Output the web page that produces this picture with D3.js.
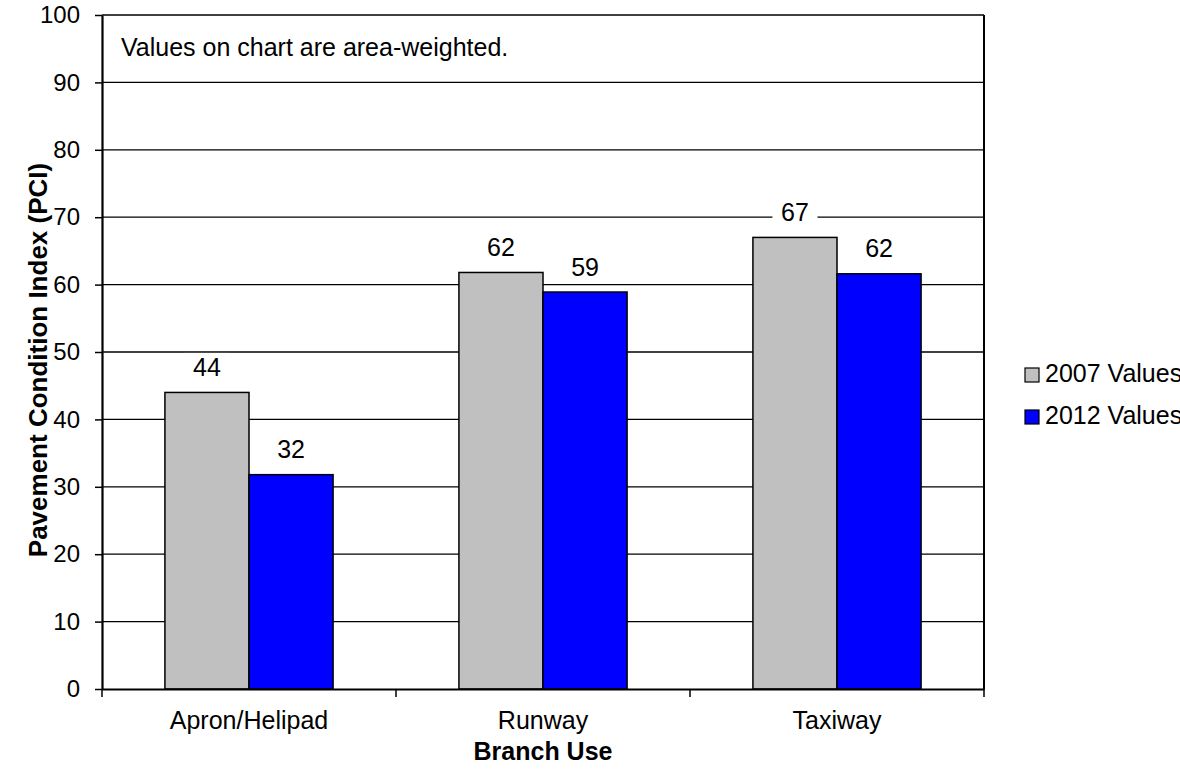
<!DOCTYPE html>
<html>
<head>
<meta charset="utf-8">
<script src="https://cdn.jsdelivr.net/npm/d3@7"></script>
<style>
  html, body { margin: 0; padding: 0; background: #fff; }
  svg { display: block; font-family: Arial, "Liberation Sans", sans-serif; }
</style>
</head>
<body>
<svg id="chart" width="1180" height="769"></svg>
<script>
// Branch use categories and area-weighted PCI per survey year
const categories = ["Apron/Helipad", "Runway", "Taxiway"];
const seriesNames = ["2007 Values", "2012 Values"];
const values2007 = [44.0, 61.8, 67.0];
const values2012 = [31.8, 58.9, 61.6];
const seriesColors = ["#C0C0C0", "#0000FF"];
const yTicks = [0, 10, 20, 30, 40, 50, 60, 70, 80, 90, 100];

const svg = d3.select("#chart");
const plot = { left: 102, right: 984, top: 15, bottom: 689 };

const x = d3.scaleBand()
  .domain(categories)
  .range([plot.left, plot.right])
  .paddingInner(0)
  .paddingOuter(0);

const y = d3.scaleLinear()
  .domain([0, 100])
  .range([plot.bottom, plot.top]);

const groupWidth = x.bandwidth() * 0.572;
const x1 = d3.scaleBand()
  .domain(seriesNames)
  .range([0, groupWidth]);

const rows = categories.map((c, i) => ({
  category: c,
  values: [values2007[i], values2012[i]]
}));

// horizontal gridlines
svg.append("g")
  .selectAll("line")
  .data(yTicks.filter(t => t > 0))
  .join("line")
  .attr("x1", plot.left).attr("x2", plot.right)
  .attr("y1", d => y(d)).attr("y2", d => y(d))
  .attr("stroke", "#000").attr("stroke-width", 1.3);

// right edge of plot area
svg.append("line")
  .attr("x1", plot.right).attr("x2", plot.right)
  .attr("y1", plot.top).attr("y2", plot.bottom)
  .attr("stroke", "#000").attr("stroke-width", 2);

// note inside the plot
svg.append("text")
  .attr("x", 121).attr("y", 55.5)
  .attr("font-size", 25)
  .text("Values on chart are area-weighted.");

// bars
const groups = svg.append("g")
  .selectAll("g")
  .data(rows)
  .join("g")
  .attr("transform", d => `translate(${x(d.category) + (x.bandwidth() - groupWidth) / 2},0)`);

groups.selectAll("rect")
  .data(d => d.values.map((v, i) => ({ v, i })))
  .join("rect")
  .attr("x", d => x1(seriesNames[d.i]))
  .attr("width", x1.bandwidth())
  .attr("y", d => y(d.v))
  .attr("height", d => y(0) - y(d.v))
  .attr("fill", d => seriesColors[d.i])
  .attr("stroke", "#000")
  .attr("stroke-width", 1.5);

// value labels with white backing so gridlines break around them
const fmt = d3.format(".0f");
const labels = groups.selectAll("g.lbl")
  .data(d => d.values.map((v, i) => ({ v, i })))
  .join("g")
  .attr("class", "lbl")
  .attr("transform", d => `translate(${x1(seriesNames[d.i]) + x1.bandwidth() / 2},${y(d.v) - 16.5})`);

labels.append("rect")
  .attr("x", -22.5).attr("width", 45)
  .attr("y", -23).attr("height", 27)
  .attr("fill", "#fff");

labels.append("text")
  .attr("text-anchor", "middle")
  .attr("font-size", 25)
  .text(d => fmt(d.v));

// y axis
const yAxis = svg.append("g")
  .attr("transform", `translate(${plot.left},0)`)
  .call(d3.axisLeft(y).tickValues(yTicks).tickSize(7).tickPadding(15).tickSizeOuter(0));
yAxis.select(".domain").attr("stroke", "#000").attr("stroke-width", 2.2);
yAxis.selectAll(".tick line").attr("stroke", "#000").attr("stroke-width", 1.5);
yAxis.selectAll(".tick text")
  .attr("font-size", 24)
  .attr("font-family", "Arial, 'Liberation Sans', sans-serif")
  .attr("fill", "#000");

// x axis with ticks at category boundaries
const xAxis = svg.append("g")
  .attr("transform", `translate(0,${plot.bottom})`)
  .call(d3.axisBottom(x).tickSize(0).tickPadding(0).tickSizeOuter(0));
xAxis.select(".domain").attr("stroke", "#000").attr("stroke-width", 2.2);
xAxis.selectAll(".tick text")
  .attr("font-size", 25)
  .attr("font-family", "Arial, 'Liberation Sans', sans-serif")
  .attr("fill", "#000")
  .attr("dy", 0)
  .attr("y", 40);

const boundaries = categories.map(c => x(c)).concat([x(categories[categories.length - 1]) + x.bandwidth()]);
svg.append("g")
  .selectAll("line")
  .data(boundaries)
  .join("line")
  .attr("x1", d => d).attr("x2", d => d)
  .attr("y1", plot.bottom).attr("y2", plot.bottom + 8)
  .attr("stroke", "#000").attr("stroke-width", 1.5);

// axis titles
svg.append("text")
  .attr("transform", `translate(47,360) rotate(-90)`)
  .attr("text-anchor", "middle")
  .attr("font-size", 26)
  .attr("font-weight", "bold")
  .text("Pavement Condition Index (PCI)");

svg.append("text")
  .attr("x", (plot.left + plot.right) / 2)
  .attr("y", 760)
  .attr("text-anchor", "middle")
  .attr("font-size", 25)
  .attr("font-weight", "bold")
  .text("Branch Use");

// legend
const legend = svg.append("g")
  .selectAll("g")
  .data(seriesNames)
  .join("g")
  .attr("transform", (d, i) => `translate(1025,${368 + i * 42})`);

legend.append("rect")
  .attr("width", 14).attr("height", 14)
  .attr("fill", (d, i) => seriesColors[i])
  .attr("stroke", "#000").attr("stroke-width", 1.2);

legend.append("text")
  .attr("x", 20).attr("y", 14)
  .attr("font-size", 25)
  .text(d => d);
</script>
</body>
</html>
